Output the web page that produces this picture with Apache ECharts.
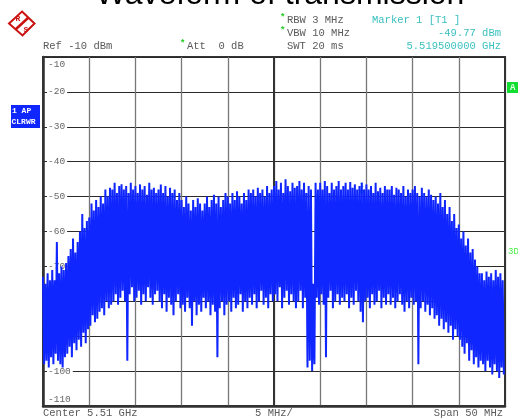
<!DOCTYPE html>
<html>
<head>
<meta charset="utf-8">
<title>Waveform of transmission</title>
<script src="https://cdn.jsdelivr.net/npm/echarts@6.0.0/dist/echarts.min.js"></script>
<style>
  html, body { margin: 0; padding: 0; background: #fff; }
  #chart { width: 518px; height: 419px; }
</style>
</head>
<body>
<div id="chart"></div>
<script>
// spectrum analyzer screenshot: centre 5.51 GHz, span 50 MHz, 5 MHz/div
const titleText = "Waveform of transmission";
const spanStartMHz = -25;
const spanEndMHz = 25;
const divMHz = 5;
const sweepStepMHz = 0.25; // one peak + one dip per step

const yTickValues = [-110, -100, -90, -80, -70, -60, -50, -40, -30, -20, -10];
const yTickLabels = ["-110", "-100", "-90", "-80", "-70", "-60", "-50", "-40", "-30", "-20", "-10"];

// upper envelope of the trace (dBm)
const peakDbm = [
  -73, -75, -72, -74, -71, -74, -63, -72, -70, -71,
  -69, -67, -65, -62, -66, -63, -60, -55, -59, -57,
  -56, -52, -54, -51, -53, -50, -52, -48, -50, -47.5,
  -48, -46, -49, -47, -46.5, -48, -47, -49, -46, -48,
  -47, -49, -46.5, -48, -47, -49.5, -46, -48, -47.5, -49,
  -48, -46.5, -49, -47, -50, -47.5, -49, -48, -51, -49,
  -51, -53, -50, -52, -54, -51, -53, -50.5, -52, -54,
  -52, -50, -53, -51, -49.5, -52, -50, -53, -51, -49,
  -50, -52, -49, -51, -48.5, -50, -52, -49, -51, -48,
  -49, -48, -50, -47.5, -49, -48, -50, -47, -49, -48,
  -47, -45.5, -48, -46, -49, -45, -47, -48.5, -46, -47.5,
  -47, -45.5, -48, -46, -49, -47, -48, -75, -46, -48,
  -46, -48, -45.5, -47, -49, -46, -48, -47, -45.5, -48,
  -47, -46, -48, -45.8, -47.5, -46.5, -48, -47, -46, -48,
  -46.5, -48, -47, -49, -46, -48.5, -47.5, -49, -47, -48,
  -48, -47, -49.5, -47.5, -48, -49, -47, -50, -48, -49,
  -48, -47, -49, -50, -47.5, -49, -50, -48, -49.5, -51,
  -50, -52, -49, -53, -51, -55, -53, -57, -55, -59,
  -58, -62, -60, -64, -62, -66, -65, -68, -70, -72,
  -72, -74, -71.5, -73, -72, -74, -71, -73, -72, -74
];

// lower envelope of the trace (dBm)
const dipDbm = [
  -98, -97, -99, -96, -98, -95, -97, -98, -99, -96,
  -95, -93, -96, -92, -94, -91, -93, -89, -92, -88,
  -87, -84, -86, -85, -83, -82, -84, -80, -82, -81,
  -80, -78, -81, -79, -77, -80, -97, -78, -76, -80,
  -79, -77, -81, -78, -80, -76, -79, -81, -78, -77,
  -80, -82, -78, -83, -79, -81, -84, -80, -78, -82,
  -81, -83, -79, -82, -87, -80, -84, -81, -83, -79,
  -82, -80, -84, -81, -83, -96, -82, -80, -84, -81,
  -80, -83, -79, -82, -81, -78, -83, -80, -82, -79,
  -81, -78, -82, -80, -77, -81, -79, -82, -78, -80,
  -78, -80, -76, -82, -79, -77, -81, -78, -80, -82,
  -80, -77, -82, -79, -99, -97, -100, -98, -79, -81,
  -78, -81, -96, -79, -77, -82, -80, -78, -81, -79,
  -80, -78, -82, -79, -81, -77, -80, -83, -86, -80,
  -79, -82, -78, -81, -80, -77, -82, -79, -81, -78,
  -81, -79, -82, -80, -78, -81, -83, -80, -82, -79,
  -81, -80, -98, -82, -80, -83, -81, -84, -82, -85,
  -84, -87, -85, -88, -86, -89, -87, -91, -88, -90,
  -91, -93, -95, -92, -97, -94, -98, -96, -99, -97,
  -98, -100, -97, -99, -101, -98, -100, -102, -99, -101
];

const markerOffsetMHz = 9.5; // 5.5195 GHz
const markerDbm = -49.77;

const headerLeft = "Ref -10 dBm";
const headerAtt = "Att  0 dB";
const headerRbw = "RBW 3 MHz";
const headerVbw = "VBW 10 MHz";
const headerSwt = "SWT 20 ms";
const headerMarker = ["Marker 1 [T1 ]", "-49.77 dBm", "5.519500000 GHz"];
const footerLabels = ["Center 5.51 GHz", "5 MHz/", "Span 50 MHz"];

const mono = "Liberation Mono";
const gray = "#5a5a5a";
const teal = "#3cc0c0";
const green = "#22cc22";
const traceBlue = "#0f26ff";

// alternate peak / dip along the sweep
const traceData = [];
peakDbm.forEach((p, i) => {
  const f = spanStartMHz + i * sweepStepMHz;
  traceData.push([f, p]);
  traceData.push([f + sweepStepMHz / 2, dipDbm[i]]);
});

const chart = echarts.init(document.getElementById("chart"));

const txt = (text, x, y, opts) => ({
  type: "text",
  silent: true,
  style: Object.assign({
    text: text, x: x, y: y,
    fill: gray, font: "10.5px " + mono,
    textAlign: "left", textVerticalAlign: "middle"
  }, opts || {})
});

const option = {
  animation: false,
  backgroundColor: "#fff",
  grid: {
    left: 43, right: 13, top: 57, bottom: 13,
    show: true, backgroundColor: "#fff",
    borderColor: "#333", borderWidth: 2
  },
  xAxis: [
    {
      type: "value", min: spanStartMHz, max: spanEndMHz, interval: divMHz,
      axisLine: { show: true, onZero: false, lineStyle: { color: "#333", width: 2.5 } },
      axisTick: { show: false },
      axisLabel: { show: false },
      splitLine: { show: true, lineStyle: { color: "#777", width: 1.3 } }
    },
    {
      // centre frequency line, drawn darker
      type: "value", min: spanStartMHz, max: spanEndMHz, interval: 25,
      axisLine: { show: false },
      axisTick: { show: false },
      axisLabel: { show: false },
      splitLine: { show: true, lineStyle: { color: "#333", width: 2 } }
    }
  ],
  yAxis: {
    type: "value", min: yTickValues[0], max: yTickValues[yTickValues.length - 1], interval: 10,
    axisLine: { show: true, onZero: false, lineStyle: { color: "#333", width: 2.5 } },
    axisTick: { show: false },
    splitLine: { show: true, lineStyle: { color: "#2a2a2a", width: 1.2 } },
    axisLabel: {
      inside: true,
      margin: 4,
      formatter: function (value) {
        const idx = yTickValues.indexOf(value);
        const label = idx >= 0 ? yTickLabels[idx] : String(value);
        if (idx === yTickValues.length - 1) return "{t|" + label + "}";
        if (idx === 0) return "{b|" + label + "}";
        return "{m|" + label + "}";
      },
      rich: {
        m: { color: "#666", fontFamily: mono, fontSize: 9.5, backgroundColor: "#fff", padding: [0, 2, 0, 1] },
        t: { color: "#666", fontFamily: mono, fontSize: 9.5, padding: [14, 0, 0, 1] },
        b: { color: "#666", fontFamily: mono, fontSize: 9.5, padding: [0, 0, 14, 1] }
      }
    }
  },
  series: [
    {
      type: "line",
      data: traceData,
      xAxisIndex: 0,
      symbol: "none",
      showSymbol: false,
      z: 5,
      lineStyle: { color: traceBlue, width: 2 },
      markPoint: {
        symbol: "triangle",
        symbolSize: [7, 6],
        symbolRotate: 180,
        symbolOffset: [0, -3],
        itemStyle: { color: "#1a9e9e" },
        label: { show: true, position: "top", distance: 1, formatter: "1", color: "#50c8c8", fontSize: 8, fontFamily: mono },
        data: [{ coord: [markerOffsetMHz, markerDbm] }]
      }
    }
  ],
  graphic: [
    // title, mostly cut off above the frame
    txt(titleText, 280, -5, { fill: "#000", font: "32px Liberation Sans", textAlign: "center" }),
    // R&S logo
    {
      type: "polygon", silent: true,
      shape: { points: [[22, 11.5], [34.5, 23.5], [22.5, 35.5], [9, 23.5]] },
      style: { fill: "#fff", stroke: "#cc1111", lineWidth: 2 }
    },
    {
      type: "line", silent: true,
      shape: { x1: 28.5, y1: 17.5, x2: 15.5, y2: 29.5 },
      style: { stroke: "#cc1111", lineWidth: 2.5 }
    },
    txt("R", 15.5, 19, { fill: "#cc1111", font: "bold 8px " + mono }),
    txt("S", 23.5, 29.5, { fill: "#cc1111", font: "bold 8px " + mono }),
    // settings header
    txt("*", 280, 18, { fill: green, font: "bold 9px " + mono }),
    txt(headerRbw, 287, 20),
    txt("*", 280, 31, { fill: green, font: "bold 9px " + mono }),
    txt(headerVbw, 287, 33),
    txt(headerSwt, 287, 46),
    txt(headerLeft, 43, 46),
    txt("*", 180, 44, { fill: green, font: "bold 9px " + mono }),
    txt(headerAtt, 187, 46),
    txt(headerMarker[0], 372, 20, { fill: teal }),
    txt(headerMarker[1], 501, 33, { fill: teal, textAlign: "right" }),
    txt(headerMarker[2], 501, 46, { fill: teal, textAlign: "right" }),
    // trace info box on the left
    { type: "rect", silent: true, shape: { x: 11, y: 105, width: 29, height: 23 }, style: { fill: traceBlue } },
    txt("1 AP", 12, 110.5, { fill: "#fff", font: "bold 8px " + mono }),
    txt("CLRWR", 11.5, 121.5, { fill: "#fff", font: "bold 8px " + mono }),
    // right side flags
    { type: "rect", silent: true, shape: { x: 507, y: 82, width: 11, height: 11 }, style: { fill: "#11dd33" } },
    txt("A", 510, 87.5, { fill: "#dfffdf", font: "bold 9px " + mono }),
    txt("3DB", 508, 252, { fill: "#44ee44", font: "9px " + mono }),
    // footer
    txt(footerLabels[0], 43, 413),
    txt(footerLabels[1], 274, 413, { textAlign: "center" }),
    txt(footerLabels[2], 503, 413, { textAlign: "right" })
  ]
};

chart.setOption(option);
</script>
</body>
</html>
